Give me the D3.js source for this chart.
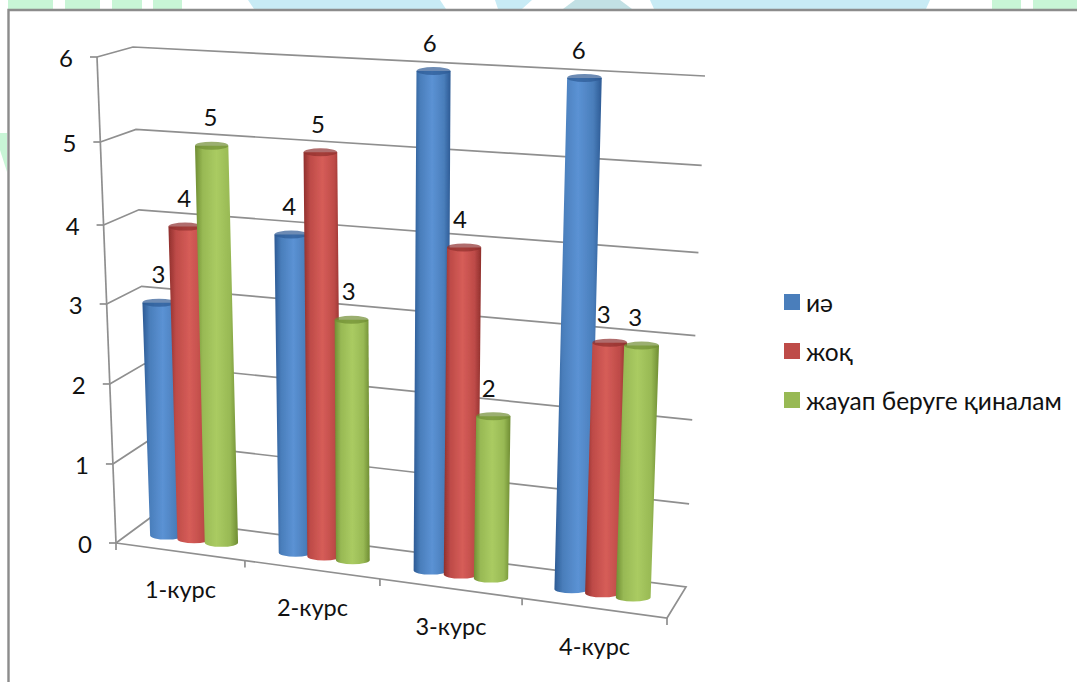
<!DOCTYPE html>
<html><head><meta charset="utf-8">
<script src="https://cdnjs.cloudflare.com/ajax/libs/d3/7.8.5/d3.min.js"></script>
<style>html,body{margin:0;padding:0;background:#fff;overflow:hidden}text{font-family:Lato,"Noto Sans",sans-serif;fill:#111}</style>
</head><body><svg id="c" width="1077" height="682"></svg>
<script>
const categories = ["1-курс","2-курс","3-курс","4-курс"];
const seriesNames = ["иә","жоқ","жауап беруге қиналам"];
const seriesColors = ["#4a7ebb","#be4b48","#98b954"];
const seriesDark = ["#2c5a94","#8f2f2c","#6f8d33"];
const seriesLight = ["#5b92d4","#d65d58","#aacb62"];
const values = {
  "иә":[3,4,6,6],
  "жоқ":[4,5,4,3],
  "жауап беруге қиналам":[5,3,2,3]
};
const yTicks = [0,1,2,3,4,5,6];

const svg = d3.select("#c");
// watermark strips behind the chart frame
const wmGreen = ["8,0 53,0 53,9 8,9","65,0 100,0 100,9 65,9","112,0 142,0 142,9 112,9","153,0 182,0 182,9 153,9","992,0 1021,0 1021,9 992,9","1033,0 1077,0 1077,9 1033,9","0,133 7,133 7,172 0,150"];
const wmBlue = ["248,0 440,0 446,9 254,9","495,0 532,0 522,9 498,9","650,0 930,0 926,9 654,9"];
const wmGrey = ["575,0 620,0 632,9 563,9"];
const wm = svg.append("g");
wm.selectAll(".g").data(wmGreen).join("polygon").attr("points",d=>d).attr("fill","#c8f5d6");
wm.selectAll(".b").data(wmBlue).join("polygon").attr("points",d=>d).attr("fill","#c8ebf5");
wm.selectAll(".y").data(wmGrey).join("polygon").attr("points",d=>d).attr("fill","#c2e0e4");
svg.append("path").attr("d","M8.5,682V10H1077").attr("fill","none").attr("stroke","#8c8c8c").attr("stroke-width",2.4);

const defs = svg.append("defs");
seriesNames.forEach((s,i)=>{
  const g = defs.append("linearGradient").attr("id","cyl"+i);
  [[0,seriesDark[i]],[.18,seriesColors[i]],[.5,seriesLight[i]],[.82,seriesColors[i]],[1,seriesDark[i]]]
    .forEach(([o,c])=>g.append("stop").attr("offset",o).attr("stop-color",c));
});
const blur = defs.append("filter").attr("id","soft");
blur.append("feGaussianBlur").attr("stdDeviation",0.6);

// value axis is slightly non-linear on the picture (perspective)
const h = d3.scaleLinear(yTicks,[0,.1626,.3272,.4918,.6543,.8251,1]);
const yFL = d3.scaleLinear([0,1],[543,57]), xFL = d3.scaleLinear([0,1],[116,97]);
const yBL = d3.scaleLinear([0,1],[518,47]), xBL = d3.scaleLinear([0,1],[150,133]);
const yFR = d3.scaleLinear([0,1],[618,82]), xFR = d3.scaleLinear([0,1],[667,688]);
const yBR = d3.scaleLinear([0,1],[587,76]), xBR = d3.scaleLinear([0,1],[686,705]);
const cat = d3.scaleLinear([0,1,2,3,4],[0,.234,.479,.737,1]);
const lerp = (a,b,t)=>a+(b-a)*t;
function P(c,d,v){
  const t = cat(c), k = h(v);
  return [
    lerp(lerp(xFL(k),xFR(k),t),lerp(xBL(k),xBR(k),t),d),
    lerp(lerp(yFL(k),yFR(k),t),lerp(yBL(k),yBR(k),t),d)
  ];
}
const line = d3.line();
const grid = svg.append("g").attr("fill","none").attr("stroke","#8f8f8f").attr("stroke-width",1.7).attr("filter","url(#soft)");
yTicks.forEach(v=>{
  grid.append("path").attr("d",line([P(0,0,v),P(0,1,v),P(4,1,v)].concat(v===0?[P(4,0,0),P(0,0,0)]:[])));
  const p=P(0,0,v);
  grid.append("line").attr("x1",p[0]-7).attr("x2",p[0]).attr("y1",p[1]).attr("y2",p[1]);
  svg.append("text").attr("x",p[0]-24).attr("y",p[1]+1).attr("dy","0.36em").attr("text-anchor","end").attr("font-size",24).text(v);
});
grid.append("path").attr("d",line([P(0,0,0),P(0,0,6)]));
d3.range(0,5).forEach(c=>{
  const p=P(c,0,0);
  grid.append("line").attr("x1",p[0]).attr("x2",p[0]).attr("y1",p[1]).attr("y2",p[1]+7);
});

// bars: the top rim of each cylinder touches the value level
const offset = d3.scaleLinear([0,2],[.27,.70]);
const depth = 0.48;
const r = d3.scaleLinear([0,1],[16.5,17.5]);
const bars = svg.append("g");
categories.forEach((c,ci)=>{
  seriesNames.forEach((s,si)=>{
    const v = values[s][ci], u = ci+offset(si);
    const b = P(u,depth,0), t = P(u,depth,v), rr = r(cat(u)), ry = 4, ty = t[1]+ry;
    const g = bars.append("g").attr("filter","url(#soft)");
    g.append("path").attr("fill",`url(#cyl${si})`)
      .attr("d",`M${t[0]-rr},${ty}L${b[0]-rr},${b[1]}A${rr},${ry} 0 0 0 ${b[0]+rr},${b[1]}L${t[0]+rr},${ty}Z`);
    g.append("ellipse").attr("cx",t[0]).attr("cy",ty).attr("rx",rr).attr("ry",ry).attr("fill",seriesDark[si]).attr("opacity",.7);
  });
});
// value labels
categories.forEach((c,ci)=>{
  seriesNames.forEach((s,si)=>{
    const v = values[s][ci], u = ci+offset(si), t = P(u,depth,v);
    svg.append("text").attr("x",t[0]-7*cat(u)).attr("y",t[1]-24).attr("dy","0.36em").attr("text-anchor","middle").attr("font-size",24).text(v);
  });
});
// category labels
categories.forEach((c,ci)=>{
  const p=P(ci+.5,0,0);
  svg.append("text").attr("x",p[0]).attr("y",p[1]+38).attr("dy","0.36em").attr("text-anchor","middle").attr("font-size",23.5).text(c);
});
// legend
const ly = d3.scalePoint().domain(seriesNames).range([302,400]);
seriesNames.forEach((s,i)=>{
  svg.append("rect").attr("x",784).attr("y",ly(s)-8).attr("width",16).attr("height",16).attr("fill",seriesColors[i]);
  svg.append("text").attr("x",806).attr("y",ly(s)+1).attr("dy","0.36em").attr("font-size",24.5).text(s);
});
</script></body></html>
